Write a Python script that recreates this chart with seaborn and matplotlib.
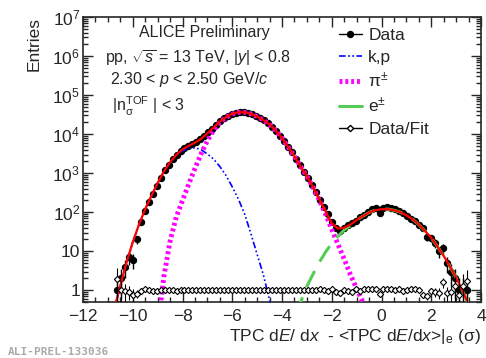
import matplotlib
matplotlib.use("Agg")
import matplotlib.pyplot as plt
from matplotlib.lines import Line2D
from matplotlib.ticker import MultipleLocator, FixedLocator, FixedFormatter, LogLocator
import numpy as np
import pandas as pd
import seaborn as sns

# histogram bins (centres), bin width 0.16
bin_w = 0.16
data_x = np.round(-10.64 + bin_w * np.arange(89), 2)
data_y = [1, 2, 4, 7, 6, 20, 55, 110, 185, 300,
          480, 760, 1180, 1650, 2300, 3000, 3700, 4350, 5000, 5600,
          6300, 7400, 8900, 11000, 13800, 17300, 21500, 25700, 29500, 33100,
          35500, 36300, 36300, 34700, 32300, 28800, 25700, 22400, 19000, 15500,
          12000, 9100, 6800, 4800, 3400, 2350, 1580, 1100, 740, 500,
          320, 205, 135, 88, 55, 40, 32, 40, 46, 52,
          60, 74, 84, 104, 118, 128, 96, 130, 132, 130,
          118, 105, 96, 80, 68, 58, 48, 40, 23, 22,
          16, 10, 12, 5, 3, 2, 1, 1, 1]
ratio_y = [1.9, 1.0, 0.95, 0.92, 0.75, 0.82, 0.95, 1.1, 1.02, 0.93,
           0.95, 1.0, 1.03, 0.99, 1.01, 0.98, 1.0, 1.02, 0.99, 1.0,
           1.01, 0.99, 1.0, 1.01, 0.99, 1.0, 1.0, 1.01, 0.99, 1.0,
           1.0, 1.0, 1.0, 1.0, 1.0, 1.01, 1.0, 0.99, 1.0, 1.0,
           1.01, 1.0, 0.99, 1.0, 1.01, 1.02, 1.0, 1.03, 1.01, 1.04,
           1.02, 1.05, 1.0, 0.97, 1.06, 0.88, 0.85, 1.0, 0.95, 0.9,
           1.05, 0.95, 1.05, 1.08, 1.05, 1.1, 0.82, 1.06, 1.08, 1.05,
           1.02, 1.05, 0.97, 1.0, 1.05, 1.1, 1.0, 0.75, 0.72, 0.95,
           0.92, 0.85, 1.6, 0.85, 0.9, 1.25, 0.75, 1.3, 1.7]

# fit curves, sampled every 0.25 sigma
fit_x = np.round(np.arange(-11.0, 3.51, 0.25), 2)
fit_total = [0.03, 0.32, 1.3, 5.2, 17, 48, 120, 263, 560, 1100,
             1900, 2950, 4070, 5010, 6030, 7590, 10500, 14800, 20900, 27500,
             33100, 36300, 36300, 33100, 28200, 22900, 17800, 12300, 7940, 4680,
             2690, 1480, 832, 437, 214, 105, 52, 38, 40, 48,
             63, 79, 98, 112, 119, 120, 112, 100, 83, 66,
             48, 33, 22, 13.2, 7.6, 4.1, 2.1, 0.98, 0.44]

kp_x = np.round(np.arange(-11.0, -3.99, 0.25), 2)
kp_y = [0.025, 0.32, 1.3, 5.2, 17, 48, 120, 263, 537, 1100,
        1860, 2820, 3720, 4370, 4470, 3980, 3090, 2290, 1480, 871,
        447, 214, 89, 28, 8.3, 2.5, 0.56, 0.13, 0.02]

pi_x = np.round(np.arange(-9.0, -0.49, 0.25), 2)
pi_y = [0.1, 2.2, 18, 76, 200, 525, 1320, 3160, 6760, 12600,
        20000, 26900, 32600, 36100, 36200, 33000, 28200, 22900, 17800, 12300,
        7940, 4680, 2690, 1480, 830, 427, 204, 89, 36, 15,
        6.3, 2.5, 1.1, 0.5, 0.2]

e_x = np.round(np.arange(-3.5, 3.51, 0.25), 2)
e_y = [0.25, 0.5, 1.26, 2.6, 5.2, 9.5, 16, 24, 35, 45,
       62, 79, 98, 112, 119, 120, 112, 100, 83, 66,
       48, 33, 22, 13.2, 7.6, 4.1, 2.1, 0.98, 0.44]

y_ticks = [1, 10, 1e2, 1e3, 1e4, 1e5, 1e6, 1e7]
y_ticklabels = ["1", "10", "$10^{2}$", "$10^{3}$", "$10^{4}$", "$10^{5}$", "$10^{6}$", "$10^{7}$"]

sns.set_style("ticks")
plt.rcParams["font.family"] = ["Liberation Sans", "DejaVu Sans"]
plt.rcParams["mathtext.fontset"] = "custom"
plt.rcParams["mathtext.rm"] = "Liberation Sans"
plt.rcParams["mathtext.it"] = "Liberation Sans:italic"
plt.rcParams["mathtext.sf"] = "Liberation Sans"

fig = plt.figure(figsize=(4.86, 3.58), dpi=100)
ax = fig.add_axes([83 / 486, 1 - 302 / 358, 398 / 486, 285 / 358])

data_y = np.array(data_y, dtype=float)
ratio_y = np.array(ratio_y)

# data points
ax.errorbar(data_x, data_y, xerr=bin_w / 2, yerr=np.sqrt(data_y), fmt="o", color="black",
            ms=4.3, elinewidth=1, capsize=0, zorder=3)

# fit components
sns.lineplot(x=kp_x, y=kp_y, ax=ax, color="#0000ff", lw=1.2, sort=False, zorder=4)
ax.lines[-1].set_dashes([4, 1.5, 1, 1.5, 1, 1.5, 1, 1.5])
sns.lineplot(x=pi_x, y=pi_y, ax=ax, color="#ff00ff", lw=3.5, sort=False, zorder=4)
ax.lines[-1].set_dashes([0.6, 0.6])
sns.lineplot(x=e_x, y=e_y, ax=ax, color="#55cc55", lw=2.2, sort=False, zorder=4)
ax.lines[-1].set_dashes([6, 3.5])
sns.lineplot(x=fit_x, y=fit_total, ax=ax, color="#ff0000", lw=1.6, sort=False, zorder=5)

# data / fit
ax.errorbar(data_x, ratio_y, xerr=bin_w / 2, yerr=ratio_y / np.sqrt(data_y), fmt="D",
            color="black", mfc="white", mec="black", ms=3.2, mew=0.8,
            elinewidth=0.8, capsize=0, zorder=6)

ax.set_yscale("log")
ax.set_xlim(-12, 4)
ax.set_ylim(0.5, 1e7)
ax.xaxis.set_major_locator(MultipleLocator(2))
ax.xaxis.set_minor_locator(MultipleLocator(0.5))
ax.yaxis.set_major_locator(FixedLocator(y_ticks))
ax.yaxis.set_major_formatter(FixedFormatter(y_ticklabels))
ax.yaxis.set_minor_locator(LogLocator(base=10, subs=np.arange(2, 10), numticks=20))
ax.tick_params(which="both", direction="in", top=True, right=True, labelsize=12.5, width=1)
ax.tick_params(which="major", length=7)
ax.tick_params(which="minor", length=3.5)
ax.tick_params(axis="x", pad=5)
ax.tick_params(axis="y", pad=2)
for sp in ax.spines.values():
    sp.set_linewidth(1.2)

ax.set_xlabel(r"TPC d$E$/ d$x$  - <TPC d$E$/d$x$>|$_{\rm e}$ (σ)", fontsize=12.5, ha="right", x=1.0, labelpad=2)
ax.set_ylabel("Entries", fontsize=12.5, ha="right", y=1.0, labelpad=8)

ax.text(0.305, 0.945, "ALICE Preliminary", transform=ax.transAxes, fontsize=11.5, ha="center", va="center")
ax.text(0.055, 0.857, r"pp, $\sqrt{s}$ = 13 TeV, |$y$| < 0.8", transform=ax.transAxes, fontsize=11.5, va="center")
ax.text(0.068, 0.779, r"2.30 < $p$ < 2.50 GeV/$c$", transform=ax.transAxes, fontsize=11.5, va="center")
ax.text(0.072, 0.685, r"|n$^{\rm TOF}_{\rm σ}$ | < 3", transform=ax.transAxes, fontsize=11.5, va="center")

handles = [
    Line2D([], [], color="black", marker="o", ms=4.3, lw=1),
    Line2D([], [], color="#0000ff", lw=1.2, dashes=[4, 1.5, 1, 1.5, 1, 1.5]),
    Line2D([], [], color="#ff00ff", lw=3.5, dashes=[0.6, 0.6]),
    Line2D([], [], color="#55cc55", lw=2.2),
    Line2D([], [], color="black", marker="D", mfc="white", ms=3.2, lw=1),
]
labels = ["Data", "k,p", "π$^{\\pm}$", "e$^{\\pm}$", "Data/Fit"]
ax.legend(handles, labels, loc="upper left", bbox_to_anchor=(0.625, 0.985), frameon=False,
          fontsize=12.5, handlelength=1.35, handletextpad=0.35, labelspacing=0.35, borderaxespad=0)

fig.text(8 / 486, 1 - 352 / 358, "ALI-PREL-133036", fontsize=8, color="#aaaaaa",
         family="DejaVu Sans Mono", fontweight="bold", va="center")

fig.savefig("out.png", dpi=100)
